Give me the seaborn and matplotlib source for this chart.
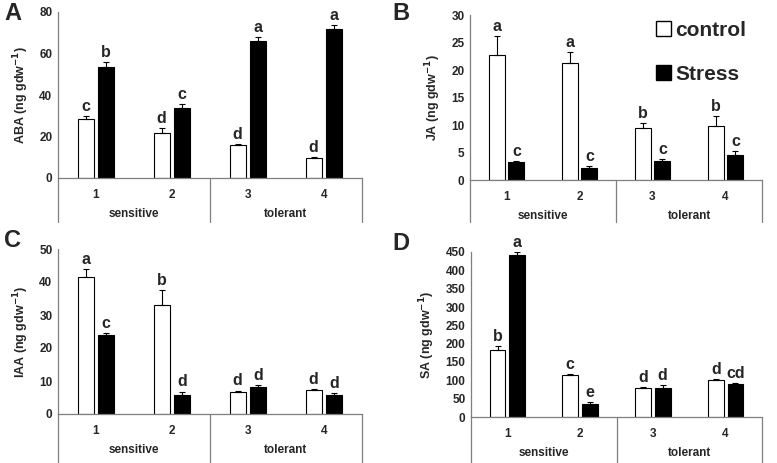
import matplotlib
matplotlib.use("Agg")
import matplotlib.pyplot as plt
import seaborn as sns
import pandas as pd

# genotypes and groups
genotypes = ["1", "2", "3", "4"]
groups = ["sensitive", "sensitive", "tolerant", "tolerant"]
treatments = ["control", "Stress"]

# ABA (ng gdw-1)
aba_control = [28.5, 21.5, 16.0, 9.5]
aba_control_err = [1.5, 2.5, 0.5, 0.5]
aba_stress = [53.5, 33.5, 66.0, 72.0]
aba_stress_err = [2.5, 2.0, 2.0, 1.5]
aba_control_letters = ["c", "d", "d", "d"]
aba_stress_letters = ["b", "c", "a", "a"]

# JA (ng gdw-1)
ja_control = [22.7, 21.2, 9.4, 9.9]
ja_control_err = [3.5, 2.1, 1.0, 1.8]
ja_stress = [3.2, 2.2, 3.4, 4.6]
ja_stress_err = [0.3, 0.3, 0.4, 0.7]
ja_control_letters = ["a", "a", "b", "b"]
ja_stress_letters = ["c", "c", "c", "c"]

# IAA (ng gdw-1)
iaa_control = [41.5, 33.0, 6.8, 7.2]
iaa_control_err = [2.3, 4.5, 0.3, 0.3]
iaa_stress = [24.0, 5.8, 8.3, 5.9]
iaa_stress_err = [0.5, 1.0, 0.6, 0.5]
iaa_control_letters = ["a", "b", "d", "d"]
iaa_stress_letters = ["c", "d", "d", "d"]

# SA (ng gdw-1)
sa_control = [183, 114, 79, 102]
sa_control_err = [10, 2, 3, 2]
sa_stress = [443, 35, 79, 89]
sa_stress_err = [7, 6, 7, 4]
sa_control_letters = ["b", "c", "d", "d"]
sa_stress_letters = ["a", "e", "d", "cd"]

sns.set_theme(style="white")
plt.rcParams["font.family"] = ["Liberation Sans", "DejaVu Sans"]
plt.rcParams["font.weight"] = "bold"

AXIS_GRAY = "#7f7f7f"


def make_df(control, stress):
    rows = []
    for g, c, s in zip(genotypes, control, stress):
        rows.append({"genotype": g, "treatment": "control", "value": c})
        rows.append({"genotype": g, "treatment": "Stress", "value": s})
    return pd.DataFrame(rows)


def draw_panel(ax, name, control, c_err, c_let, stress, s_err, s_let,
               ymax, ystep, depth_px, height_px, legend=False):
    df = make_df(control, stress)
    sns.barplot(data=df, x="genotype", y="value", hue="treatment",
                hue_order=treatments, palette=["white", "black"],
                edgecolor="black", linewidth=0.8, width=0.54, gap=0.2,
                errorbar=None, legend=legend, ax=ax)
    for cont, err, lets in zip(ax.containers, [c_err, s_err], [c_let, s_let]):
        for bar, e, lab in zip(cont, err, lets):
            x = bar.get_x() + bar.get_width() / 2
            h = bar.get_height()
            ax.errorbar(x, h, yerr=[[0], [e]], fmt="none", ecolor="black",
                        elinewidth=0.8, capsize=2.5, capthick=0.8)
            ax.annotate(lab, (x, h + e), xytext=(0, 1.5),
                        textcoords="offset points", ha="center", va="bottom",
                        fontsize=11.5, fontweight="bold")
    ax.set_xlim(-0.5, 3.5)
    ax.set_ylim(0, ymax)
    ax.set_yticks(range(0, ymax + 1, ystep))
    ax.tick_params(axis="y", length=0, labelsize=8.5, pad=4)
    ax.tick_params(axis="x", length=0, labelsize=8.5, pad=8)
    for t in ax.get_xticklabels() + ax.get_yticklabels():
        t.set_fontweight("bold")
    ax.set_xlabel("")
    ax.set_ylabel(name + " (ng gdw$^{\\mathbf{-1}}$)", fontsize=9,
                  fontweight="bold", labelpad=6)
    for s in ["top", "right"]:
        ax.spines[s].set_visible(False)
    ax.spines["left"].set_color(AXIS_GRAY)
    ax.spines["bottom"].set_color(AXIS_GRAY)
    ax.spines["left"].set_linewidth(0.9)
    ax.spines["bottom"].set_linewidth(0.9)

    # two-level category axis
    trans = ax.get_xaxis_transform()
    d = depth_px / height_px
    for xv in [-0.5, 1.5, 3.5]:
        ax.plot([xv, xv], [0, -d], transform=trans, color=AXIS_GRAY,
                lw=0.9, clip_on=False)
    for xv, g in [(0.5, groups[0]), (2.5, groups[2])]:
        ax.text(xv, -36 / height_px, g, transform=trans, ha="center",
                va="center", fontsize=8.5, fontweight="bold")

    if legend:
        leg = ax.legend(loc="upper right", bbox_to_anchor=(1.01, 1.08),
                        frameon=False, handlelength=0.7,
                        handleheight=0.7, handletextpad=0.2,
                        labelspacing=1.2, prop={"size": 15, "weight": "bold"})
        for h in leg.legend_handles:
            h.set_edgecolor("black")
            h.set_linewidth(1.0)


fig = plt.figure(figsize=(7.77, 4.63), dpi=100)
W, H = 777, 463


def add_axes(left, right, top, bottom):
    return fig.add_axes([left / W, 1 - bottom / H, (right - left) / W,
                         (bottom - top) / H])


axA = add_axes(58, 362, 12, 178)
axB = add_axes(470, 762, 15, 180)
axC = add_axes(58, 362, 249, 414)
axD = add_axes(471, 762, 252, 417)

draw_panel(axA, "ABA", aba_control, aba_control_err, aba_control_letters,
           aba_stress, aba_stress_err, aba_stress_letters, 80, 20, 44, 166)
draw_panel(axB, "JA", ja_control, ja_control_err, ja_control_letters,
           ja_stress, ja_stress_err, ja_stress_letters, 30, 5, 42, 165,
           legend=True)
draw_panel(axC, "IAA", iaa_control, iaa_control_err, iaa_control_letters,
           iaa_stress, iaa_stress_err, iaa_stress_letters, 50, 10, 50, 165)
draw_panel(axD, "SA", sa_control, sa_control_err, sa_control_letters,
           sa_stress, sa_stress_err, sa_stress_letters, 450, 50, 46, 165)

for lab, x, y in [("A", 4, 13), ("B", 392, 13), ("C", 4, 241), ("D", 392, 244)]:
    fig.text(x / W, 1 - y / H, lab, fontsize=17, fontweight="bold",
             ha="left", va="center")

fig.savefig("out.png", dpi=100)
